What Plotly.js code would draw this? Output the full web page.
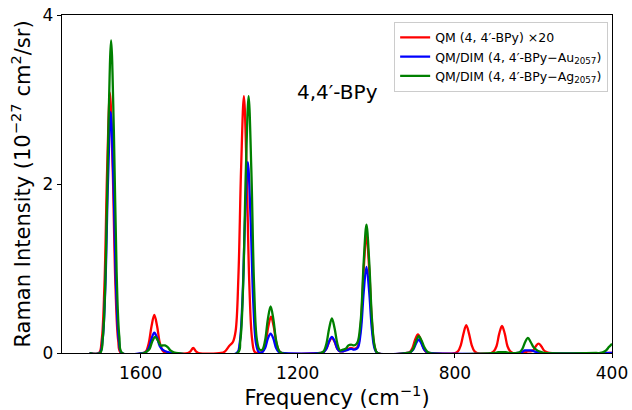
<!DOCTYPE html>
<html>
<head>
<meta charset="utf-8">
<script src="https://cdn.plot.ly/plotly-3.0.1.min.js"></script>
<style>html,body{margin:0;padding:0;background:#fff;}#chart{width:632px;height:410px;}</style>
</head>
<body>
<div id="chart"></div>
<script>
// Spectra (frequency in cm^-1, intensity in 10^-27 cm^2/sr)
const redX = [1730,1706,1699,1692,1685,1678,1671,1664,1657,1650,
  1593,1586,1579,1572,1565,1558,1551,1544,1536,
  1480,1473,1466,1459,1452,
  1395,1385,1375,1365,1358,1351,1344,1337,1330,1323,1316,1309,1296,1289,1282,1275,1268,1261,1254,1247,1240,
  1141,1134,1127,1120,1113,1106,1099,1092,1085,1078,1071,1064,1057,1050,1046,1039,1032,1025,1018,1011,1004,997,
  922,915,908,901,894,887,880,873,866,
  799,792,785,778,771,764,757,750,743,
  708,701,694,687,680,673,666,659,652,
  630,620,614,608,601,594,587,580,573,566,559,400];
const redY = [0,0,0.15,0.80,2.19,3.08,2.19,0.80,0.15,0,
  0,0.02,0.12,0.32,0.45,0.32,0.12,0.03,0,
  0,0.02,0.06,0.02,0,
  0,0.02,0.08,0.13,0.26,0.90,2.20,3.04,2.16,0.79,0.16,0.01,0,0.02,0.11,0.31,0.43,0.31,0.11,0.02,0,
  0,0.01,0.05,0.13,0.18,0.13,0.05,0.02,0.02,0.03,0.05,0.06,0.05,0.06,0.09,0.36,0.99,1.40,0.99,0.36,0.07,0,
  0,0.01,0.06,0.16,0.22,0.16,0.06,0.01,0,
  0,0.02,0.09,0.23,0.33,0.23,0.09,0.02,0,
  0,0.02,0.08,0.23,0.32,0.23,0.08,0.02,0,
  0,0.01,0.02,0.02,0.03,0.08,0.11,0.08,0.03,0.01,0,0];

const blueX = [1730,1704,1697,1690,1683,1676,1669,1662,1655,1648,
  1593,1586,1579,1572,1565,1558,1551,1544,1537,1530,1520,
  1355,1348,1341,1334,1327,1320,1313,1306,1299,1290,1283,1276,1269,1262,1255,1248,1241,
  1141,1134,1127,1120,1113,1106,1099,1092,1085,1078,1071,1064,1057,1050,1046,1039,1032,1025,1018,1011,1004,997,
  920,913,906,899,892,885,878,871,864,
  640,630,622,614,606,598,590,580,400];
const blueY = [0,0,0.14,0.74,2.02,2.85,2.02,0.74,0.14,0,
  0,0.01,0.06,0.17,0.24,0.18,0.08,0.04,0.02,0.01,0,
  0,0.11,0.59,1.60,2.26,1.60,0.59,0.11,0.01,0.01,0.06,0.17,0.23,0.17,0.06,0.01,0,
  0,0.01,0.05,0.14,0.19,0.14,0.05,0.02,0.02,0.03,0.04,0.05,0.04,0.05,0.07,0.27,0.72,1.02,0.72,0.27,0.05,0,
  0,0.01,0.04,0.11,0.16,0.11,0.04,0.01,0,
  0,0.01,0.03,0.03,0.03,0.02,0.01,0,0];

const greenX = [1730,1703,1696,1689,1682,1675,1668,1661,1654,1647,
  1591,1584,1577,1570,1563,1556,1549,1542,1538,1531,1524,1517,1510,
  1353,1346,1339,1332,1325,1318,1311,1304,1297,1290,1283,1276,1269,1262,1255,1248,1241,
  1141,1134,1127,1120,1113,1106,1099,1092,1085,1078,1071,1064,1057,1050,1046,1039,1032,1025,1018,1011,1004,997,
  920,913,906,899,892,885,878,871,864,
  700,690,680,670,660,642,635,628,621,614,607,600,593,586,579,572,
  440,430,422,415,408,400];
const greenY = [0,0,0.19,0.96,2.63,3.70,2.63,0.96,0.19,0,
  0,0.02,0.05,0.14,0.19,0.15,0.09,0.09,0.09,0.07,0.03,0.01,0,
  0,0.15,0.79,2.16,3.04,2.16,0.79,0.16,0.04,0.04,0.15,0.40,0.55,0.40,0.15,0.03,0,
  0,0.02,0.11,0.29,0.41,0.29,0.11,0.03,0.04,0.05,0.09,0.10,0.09,0.11,0.15,0.42,1.08,1.52,1.08,0.40,0.08,0,
  0,0.01,0.05,0.14,0.20,0.15,0.07,0.02,0,
  0,0.01,0.01,0.01,0,0,0.01,0.05,0.13,0.18,0.13,0.07,0.04,0.02,0.01,0,
  0,0,0.01,0.03,0.07,0.11];

const seriesNames = ['QM (4, 4′-BPy) ×20', 'QM/DIM (4, 4′-BPy−Au<sub>2057</sub>)', 'QM/DIM (4, 4′-BPy−Ag<sub>2057</sub>)'];
const xTicks = [1600, 1200, 800, 400];
const yTicks = [0, 2, 4];

const font = 'DejaVu Sans, sans-serif';
const mk = (x, y, name, color) => ({
  x: x, y: y, name: name, type: 'scatter', mode: 'lines',
  line: {color: color, width: 2.3, shape: 'spline', smoothing: 1}
});
const data = [
  mk(redX, redY, seriesNames[0], '#ff0000'),
  mk(blueX, blueY, seriesNames[1], '#0000ff'),
  mk(greenX, greenY, seriesNames[2], '#008000')
];
const layout = {
  width: 632, height: 410,
  margin: {l: 62, r: 20, t: 15, b: 57},
  paper_bgcolor: '#fff', plot_bgcolor: '#fff',
  font: {family: font, color: '#000'},
  showlegend: true,
  legend: {
    x: 0.993, y: 0.98, xanchor: 'right', yanchor: 'top',
    bgcolor: 'rgba(255,255,255,0.8)', bordercolor: '#cccccc', borderwidth: 1,
    font: {family: font, size: 12.5, color: '#000'},
    tracegroupgap: 0
  },
  xaxis: {
    range: [1800, 400], tickvals: xTicks, ticktext: xTicks.map(String),
    showgrid: false, zeroline: false, showline: true, mirror: true,
    linecolor: '#000', linewidth: 1.2, ticks: 'outside', ticklen: 4, tickcolor: '#000',
    tickfont: {family: font, size: 17},
    title: {text: 'Frequency (cm<sup>−1</sup>)', font: {family: font, size: 21}, standoff: 4}
  },
  yaxis: {
    range: [0, 4], tickvals: yTicks, ticktext: yTicks.map(String),
    showgrid: false, zeroline: false, showline: true, mirror: true,
    linecolor: '#000', linewidth: 1.2, ticks: 'outside', ticklen: 4, tickcolor: '#000',
    tickfont: {family: font, size: 17},
    title: {text: 'Raman Intensity (10<sup>−27</sup> cm<sup>2</sup>/sr)', font: {family: font, size: 21}, standoff: 6}
  },
  annotations: [{
    text: '4,4′-BPy', xref: 'paper', yref: 'paper', x: 0.50, y: 0.772,
    xanchor: 'center', yanchor: 'middle', showarrow: false,
    font: {family: font, size: 20, color: '#000'}
  }]
};
Plotly.newPlot('chart', data, layout, {staticPlot: true, displayModeBar: false});
</script>
</body>
</html>
